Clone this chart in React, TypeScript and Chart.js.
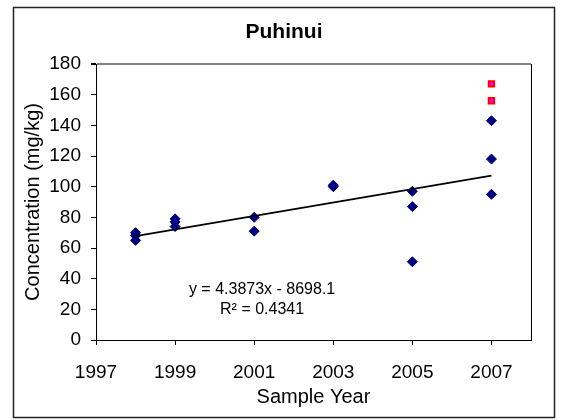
import React, { useEffect, useRef } from "react";
import { Chart, registerables } from "chart.js";

Chart.register(...registerables);

const chartTitle = "Puhinui";
const xTitle = "Sample Year";
const yTitle = "Concentration (mg/kg)";

const sampleYears = [1998, 1998, 1998, 1999, 1999, 1999, 2001, 2001, 2003, 2003, 2005, 2005, 2005, 2007, 2007, 2007];
const concentrations = [70, 68, 65, 79, 77, 74, 80, 71, 100, 101, 97, 87, 51, 143, 118, 95];

const outlierYears = [2007, 2007];
const outlierValues = [167, 156];

const xTickValues = [1997, 1999, 2001, 2003, 2005, 2007];
const yTickValues = [0, 20, 40, 60, 80, 100, 120, 140, 160, 180];

const trendSlope = 4.3873;
const trendIntercept = -8698.1;
const trendRange = [1998, 2007];
const equationLines = ["y = 4.3873x - 8698.1", "R\u00B2 = 0.4341"];

const FONT = "'Liberation Sans', Arial, sans-serif";

export default function App() {
  const ref = useRef<HTMLCanvasElement | null>(null);

  useEffect(() => {
    if (!ref.current) return;

    const framePlugin = {
      id: "frame",
      beforeDraw(chart: any) {
        const c = chart.ctx;
        c.save();
        c.fillStyle = "#ffffff";
        c.fillRect(0, 0, chart.width, chart.height);
        c.strokeStyle = "#222";
        c.lineWidth = 1.5;
        c.strokeRect(13.5, 7.5, 541, 410);
        c.fillStyle = "#000";
        c.font = `bold 21px ${FONT}`;
        c.textAlign = "center";
        c.textBaseline = "middle";
        c.fillText(chartTitle, 284, 32);
        c.restore();
      },
      afterDatasetsDraw(chart: any) {
        const c = chart.ctx;
        const a = chart.chartArea;
        c.save();
        c.strokeStyle = "#000";
        c.lineWidth = 1;
        c.beginPath();
        c.moveTo(a.right + 0.5, a.top);
        c.lineTo(a.right + 0.5, a.bottom);
        c.stroke();
        c.fillStyle = "#000";
        c.font = `16px ${FONT}`;
        c.textAlign = "center";
        c.textBaseline = "middle";
        const xs = chart.scales.x;
        const ys = chart.scales.y;
        const cx = xs.getPixelForValue(2001.2);
        c.fillText(equationLines[0], cx, ys.getPixelForValue(32.6));
        c.fillText(equationLines[1], cx, ys.getPixelForValue(19.6));
        c.restore();
      },
    };

    const chart = new Chart(ref.current, {
      type: "scatter",
      data: {
        datasets: [
          {
            label: "Trend",
            data: trendRange.map((x) => ({ x, y: trendSlope * x + trendIntercept })),
            showLine: true,
            borderColor: "#000",
            borderWidth: 1.6,
            pointRadius: 0,
            fill: false,
          },
          {
            label: "Samples",
            data: sampleYears.map((x, i) => ({ x, y: concentrations[i] })),
            pointStyle: "rectRot",
            pointRadius: 5,
            backgroundColor: "#000080",
            borderColor: "#000080",
            borderWidth: 1,
          },
          {
            label: "Outliers",
            data: outlierYears.map((x, i) => ({ x, y: outlierValues[i] })),
            pointStyle: "rect",
            pointRadius: 3.8,
            backgroundColor: "#ff00ff",
            borderColor: "#ff0000",
            borderWidth: 2,
          },
        ],
      },
      options: {
        animation: false,
        responsive: false,
        layout: { padding: { left: 13, right: 30, top: 64, bottom: 0 } },
        plugins: {
          legend: { display: false },
          tooltip: { enabled: false },
          title: { display: false },
        },
        scales: {
          x: {
            type: "linear",
            min: 1997,
            max: 2008,
            afterBuildTicks: (s: any) => {
              s.ticks = xTickValues.map((v) => ({ value: v }));
            },
            afterFit: (s: any) => {
              s.height = 80;
            },
            grid: { drawOnChartArea: false, tickLength: 5, tickColor: "#000" },
            border: { color: "#000", width: 1 },
            ticks: {
              color: "#000",
              font: { family: FONT, size: 19 },
              padding: 16,
              maxRotation: 0,
              callback: (v: any) => String(v),
            },
            title: {
              display: true,
              text: xTitle,
              color: "#000",
              font: { family: FONT, size: 20 },
              padding: { top: 0, bottom: 11 },
            },
          },
          y: {
            type: "linear",
            min: 0,
            max: 180,
            afterBuildTicks: (s: any) => {
              s.ticks = yTickValues.map((v) => ({ value: v }));
            },
            afterFit: (s: any) => {
              s.width = 83;
            },
            grid: {
              tickLength: 5,
              tickColor: "#000",
              color: (ctx: any) => (ctx.tick && ctx.tick.value === 180 ? "#808080" : "rgba(0,0,0,0)"),
              lineWidth: (ctx: any) => (ctx.tick && ctx.tick.value === 180 ? 2 : 1),
            },
            border: { color: "#000", width: 1 },
            ticks: {
              color: "#000",
              font: { family: FONT, size: 19 },
              padding: 10,
              callback: (v: any) => String(v),
            },
            title: {
              display: true,
              text: yTitle,
              color: "#000",
              font: { family: FONT, size: 20 },
              padding: { top: 8, bottom: 0 },
            },
          },
        },
      },
      plugins: [framePlugin],
    });

    return () => chart.destroy();
  }, []);

  return (
    <div style={{ position: "absolute", left: 0, top: 0, width: 561, height: 420 }}>
      <canvas ref={ref} width={561} height={420} style={{ display: "block" }} />
    </div>
  );
}
